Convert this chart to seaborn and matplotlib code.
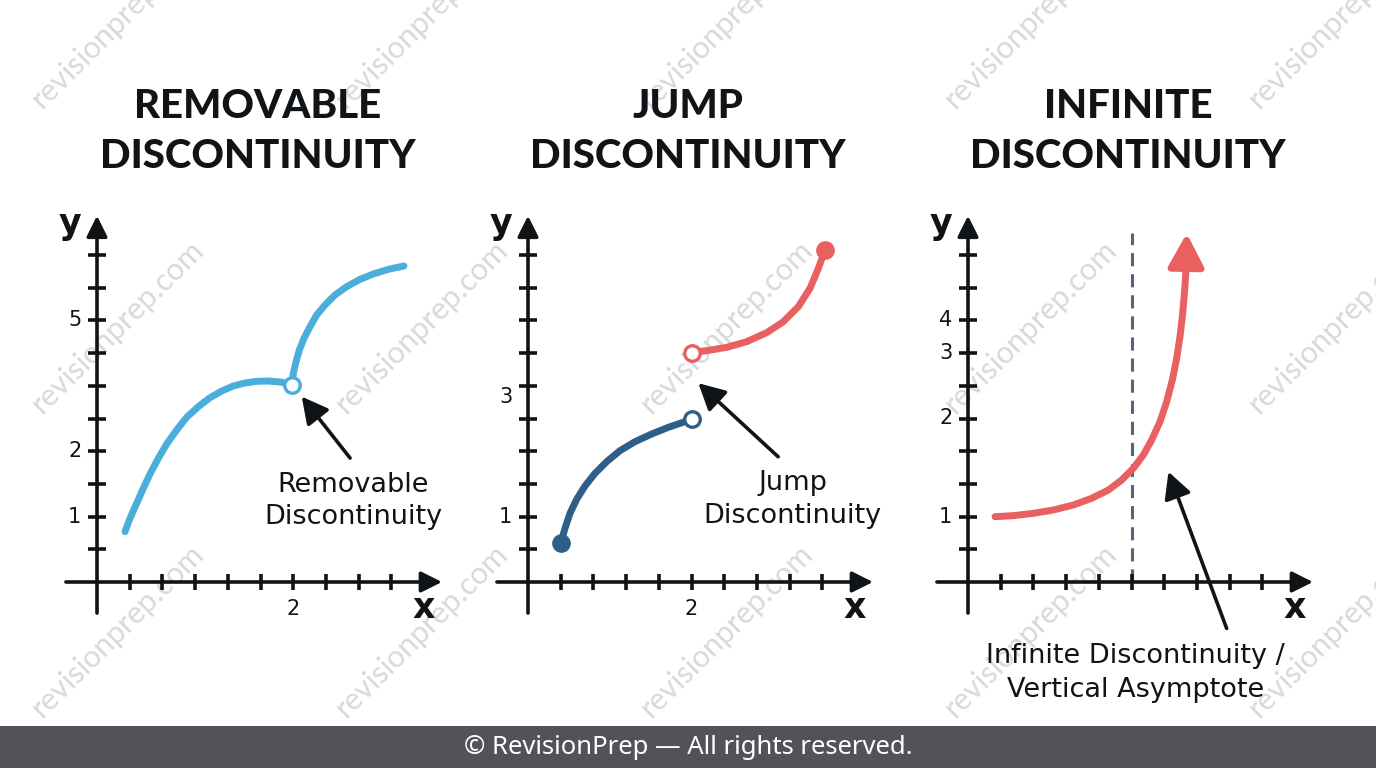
import numpy as np
import pandas as pd
import matplotlib
matplotlib.use("Agg")
import matplotlib.pyplot as plt
import seaborn as sns

# ---------------- data (in tick units) ----------------
titles = [("REMOVABLE", "DISCONTINUITY"), ("JUMP", "DISCONTINUITY"), ("INFINITE", "DISCONTINUITY")]

rem_left_x = [0.856, 1.009, 1.213, 1.417, 1.621, 1.876, 2.131, 2.436, 2.742, 3.099, 3.456,
              3.812, 4.169, 4.526, 4.883, 5.239, 5.596, 5.800, 5.953]
rem_left_y = [1.539, 1.947, 2.406, 2.865, 3.303, 3.782, 4.220, 4.648, 5.036, 5.362, 5.637,
              5.841, 5.994, 6.086, 6.137, 6.147, 6.116, 6.075, 6.024]
rem_right_x = [5.953, 6.004, 6.086, 6.188, 6.330, 6.514, 6.718, 6.972, 7.278, 7.635, 8.043,
               8.451, 8.909, 9.388]
rem_right_y = [6.024, 6.381, 6.738, 7.095, 7.452, 7.808, 8.165, 8.471, 8.777, 9.032, 9.256,
               9.419, 9.562, 9.664]
rem_hole = (5.953, 6.024)

jump_low_x = [0.999, 1.131, 1.284, 1.488, 1.743, 2.049, 2.406, 2.813, 3.272, 3.782, 4.291, 4.648, 5.005]
jump_low_y = [1.183, 1.641, 2.100, 2.528, 2.936, 3.323, 3.680, 4.016, 4.291, 4.526, 4.730, 4.852, 4.975]
jump_high_x = [5.005, 5.464, 6.075, 6.687, 7.299, 7.808, 8.267, 8.624, 8.879, 9.083]
jump_high_y = [7.013, 7.074, 7.176, 7.349, 7.625, 7.961, 8.420, 8.981, 9.592, 10.153]

inf_x = [0.826, 1.386, 1.998, 2.609, 3.221, 3.782, 4.291, 4.699, 5.056, 5.362, 5.617, 5.872,
         6.075, 6.249, 6.381, 6.483, 6.565, 6.626, 6.667]
inf_y = [1.998, 2.029, 2.100, 2.202, 2.355, 2.559, 2.813, 3.119, 3.476, 3.884, 4.343, 4.903,
         5.515, 6.177, 6.840, 7.503, 8.216, 8.930, 9.541]
inf_tip = (6.69, 10.66)
asymptote_x = 5.0
asymptote_top = 10.67

x_ticks = list(range(1, 10))
y_ticks = list(range(1, 11))
xtick_labels = [{6: "2"}, {5: "2"}, {}]
ytick_labels = [{2: "1", 4: "2", 8: "5"}, {2: "1", 5.65: "3"}, {2: "1", 5: "2", 7: "3", 8: "4"}]

notes = [("Removable", "Discontinuity"), ("Jump", "Discontinuity"),
         ("Infinite Discontinuity /", "Vertical Asymptote")]
note_pos = [(7.83, 2.97, 1.99), (8.10, 3.03, 2.02), (5.13, -2.26, -3.30)]
note_arrow = [((7.74, 3.79), (6.26, 5.67)), ((7.65, 3.83), (5.21, 6.08)), ((7.91, -1.42), (6.13, 3.37))]

footer = "© RevisionPrep — All rights reserved."
watermark = "revisionprep.com"

# ---------------- style ----------------
sns.set_theme(style="white")
plt.rcParams["font.family"] = ["Lato", "DejaVu Sans"]

INK = "#111417"
LIGHT_BLUE = "#4AAEDB"
DARK_BLUE = "#2F5F88"
CORAL = "#E8605F"
SLATE = "#55667A"
BODY = ["DejaVu Sans"]

W, H = 1376, 768
U = 32.7  # px per tick
fig = plt.figure(figsize=(W / 100, H / 100), dpi=100)
fig.patch.set_facecolor("white")

# watermarks (behind)
for cy in [21, 326, 630]:
    for cx in [118, 422, 727, 1031, 1335]:
        fig.text(cx / W, 1 - cy / H, watermark, rotation=45, ha="center", va="center",
                 fontsize=22, fontweight="normal", color="#D7D9DD", zorder=-5,
                 rotation_mode="anchor")

origins = [(97, 582), (528, 582), (968, 582)]
axes = []
for ox, oy in origins:
    left_px, right_px, top_px, bot_px = ox - 70, ox + 370, 195, 722
    ax = fig.add_axes([left_px / W, 1 - bot_px / H, (right_px - left_px) / W, (bot_px - top_px) / H])
    ax.set_xlim(-70 / U, 370 / U)
    ax.set_ylim((oy - bot_px) / U, (oy - top_px) / U)
    ax.axis("off")
    axes.append(ax)


def draw_axes(ax, xl, yl):
    arrow = dict(arrowstyle="-|>,head_length=0.7,head_width=0.35", mutation_scale=18,
                 lw=2.6, color=INK, shrinkA=0, shrinkB=0)
    ax.annotate("", xy=(10.55, 0), xytext=(-0.95, 0), arrowprops=arrow, annotation_clip=False)
    ax.annotate("", xy=(0, 11.2), xytext=(0, -0.95), arrowprops=arrow, annotation_clip=False)
    for k in x_ticks:
        ax.plot([k, k], [-0.24, 0.24], color=INK, lw=2.6, solid_capstyle="butt", clip_on=False)
    for k in y_ticks:
        ax.plot([-0.26, 0.26], [k, k], color=INK, lw=2.6, solid_capstyle="butt", clip_on=False)
    for k, s in xl.items():
        ax.text(k, -0.82, s, ha="center", va="center", fontsize=15, family=BODY, color=INK)
    for k, s in yl.items():
        ax.text(-0.48, k, s, ha="right", va="center", fontsize=15, family=BODY, color=INK)
    ax.text(-0.82, 10.95, "y", ha="center", va="center", fontsize=25, fontweight="bold",
            family=BODY, color=INK)
    ax.text(9.98, -0.80, "x", ha="center", va="center", fontsize=25, fontweight="bold",
            family=BODY, color=INK)


for ax, xl, yl in zip(axes, xtick_labels, ytick_labels):
    draw_axes(ax, xl, yl)

curve_kw = dict(lw=5, solid_capstyle="round", solid_joinstyle="round", legend=False)

# Panel 1: removable
ax = axes[0]
sns.lineplot(x=rem_left_x, y=rem_left_y, sort=False, color=LIGHT_BLUE, ax=ax, **curve_kw)
sns.lineplot(x=rem_right_x, y=rem_right_y, sort=False, color=LIGHT_BLUE, ax=ax, **curve_kw)
ax.scatter([rem_hole[0]], [rem_hole[1]], s=125, facecolor="white", edgecolor=LIGHT_BLUE,
           linewidth=2.4, zorder=5, clip_on=False)

# Panel 2: jump
ax = axes[1]
sns.lineplot(x=jump_low_x, y=jump_low_y, sort=False, color=DARK_BLUE, ax=ax, **curve_kw)
sns.lineplot(x=jump_high_x, y=jump_high_y, sort=False, color=CORAL, ax=ax, **curve_kw)
ax.scatter([jump_low_x[0]], [jump_low_y[0]], s=155, color=DARK_BLUE, zorder=5, clip_on=False)
ax.scatter([jump_low_x[-1]], [jump_low_y[-1]], s=125, facecolor="white", edgecolor=DARK_BLUE,
           linewidth=2.4, zorder=5, clip_on=False)
ax.scatter([jump_high_x[0]], [jump_high_y[0]], s=125, facecolor="white", edgecolor=CORAL,
           linewidth=2.4, zorder=5, clip_on=False)
ax.scatter([jump_high_x[-1]], [jump_high_y[-1]], s=155, color=CORAL, zorder=5, clip_on=False)

# Panel 3: infinite
ax = axes[2]
ax.plot([asymptote_x, asymptote_x], [0, asymptote_top], color=SLATE, lw=2.2,
        dashes=(4.3, 2.6), zorder=1)
sns.lineplot(x=inf_x, y=inf_y, sort=False, color=CORAL, ax=ax, **curve_kw)
ax.annotate("", xy=inf_tip, xytext=(inf_x[-1], inf_y[-1]),
            arrowprops=dict(arrowstyle="-|>,head_length=1.0,head_width=0.54", mutation_scale=20,
                            lw=5, color=CORAL, shrinkA=0, shrinkB=0), annotation_clip=False)

# notes + arrows
for ax, (l1, l2), (nx, y1, y2), (tail, head) in zip(axes, notes, note_pos, note_arrow):
    ax.text(nx, y1, l1, ha="center", va="center", fontsize=19.5, family=BODY, color=INK)
    ax.text(nx, y2, l2, ha="center", va="center", fontsize=19.5, family=BODY, color=INK)
    ax.annotate("", xy=head, xytext=tail,
                arrowprops=dict(arrowstyle="-|>,head_length=0.8,head_width=0.42", mutation_scale=20,
                                lw=2.6, color=INK, shrinkA=0, shrinkB=0), annotation_clip=False)

# titles
title_cx = [258, 688, 1128]
for cx, (t1, t2) in zip(title_cx, titles):
    fig.text(cx / W, 1 - 106 / H, t1, ha="center", va="center", fontsize=29, fontweight="black", color=INK)
    fig.text(cx / W, 1 - 156 / H, t2, ha="center", va="center", fontsize=29, fontweight="black", color=INK)

# footer band
fig.patches.append(plt.Rectangle((0, 0), 1, 42 / H, transform=fig.transFigure,
                                 facecolor="#525358", edgecolor="none", zorder=-1))
fig.text(0.5, 1 - 748 / H, footer, ha="center", va="center", fontsize=18.5,
         family=["Noto Sans", "DejaVu Sans"], color="white")

fig.savefig("out.png", dpi=100, facecolor="white")
